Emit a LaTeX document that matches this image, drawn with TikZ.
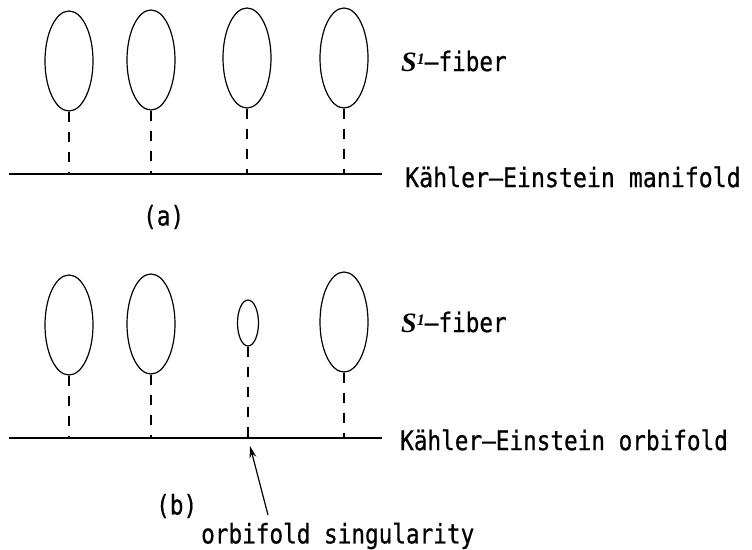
\documentclass[tikz,border=0pt]{standalone}
\usepackage{fontspec}
\usetikzlibrary{shapes.geometric,arrows.meta}
\newfontfamily\gothic[FakeStretch=0.84,FakeBold=0.6]{DejaVu Sans Mono}
\newfontfamily\gothicwide[FakeStretch=0.86,FakeBold=0.6]{DejaVu Sans Mono}
\newfontfamily\timesbi[BoldItalicFont={Liberation Serif Bold Italic}]{Liberation Serif}
\newcommand{\sonelabel}{{\fontsize{28}{30}\selectfont\timesbi\bfseries\itshape S}\raisebox{7pt}{\fontsize{16}{17}\selectfont\timesbi\bfseries\itshape 1}\gothic\fontsize{27}{29}\selectfont{}–fiber}
\begin{document}
\begin{tikzpicture}[x=1pt,y=-1pt,
  fiber/.style={ellipse, draw, line width=1.2pt, minimum width=48pt, minimum height=100pt, inner sep=0pt},
  smallfiber/.style={ellipse, draw, line width=1.2pt, minimum width=21pt, minimum height=46pt, inner sep=0pt},
  proj/.style={line width=1.3pt, dash pattern=on 10pt off 10pt},
  baseline/.style={line width=1.2pt},
  lbl/.style={anchor=west, inner sep=0pt, font=\gothic\fontsize{27}{29}\selectfont},
  slbl/.style={anchor=west, inner sep=0pt}
]
\useasboundingbox (0,0) rectangle (752,549);
% ---- panel (a)
\node[fiber] (a1) at (69,61) {};
\node[fiber] (a2) at (151,60) {};
\node[fiber] (a3) at (247,58) {};
\node[fiber] (a4) at (344,58) {};
\coordinate (aL) at (9,174);
\coordinate (aR) at (382,174);
\draw[baseline] (aL) -- (aR);
\foreach \e in {a1,a2,a3,a4}{\draw[proj] (\e.south) -- (\e.south |- aL);}
\node[slbl] (afib) at (401,61) {\sonelabel};
\node[lbl, font=\gothicwide\fontsize{27}{29}\selectfont] (aman) at (405,177) {Kähler–Einstein manifold};
\node[lbl] (alab) at (143,217) {(a)};
% ---- panel (b)
\node[fiber] (b1) at (69,325) {};
\node[fiber] (b2) at (151,324) {};
\node[smallfiber] (b3) at (248,323) {};
\node[fiber] (b4) at (344,322) {};
\coordinate (bL) at (9,438);
\coordinate (bR) at (382,438);
\draw[baseline] (bL) -- (bR);
\foreach \e in {b1,b2,b3,b4}{\draw[proj] (\e.south) -- (\e.south |- bL);}
\node[slbl] (bfib) at (401,322) {\sonelabel};
\node[lbl] (borb) at (400,440) {Kähler–Einstein orbifold};
\node[lbl] (blab) at (156,506) {(b)};
\node[lbl] (sing) at (201,536) {orbifold singularity};
\coordinate (tip) at (250,446);
\coordinate (tail) at (268,515);
\draw[line width=1.2pt, -{Stealth[length=12pt,width=7pt]}] (tail) -- (tip);
\end{tikzpicture}
\end{document}
